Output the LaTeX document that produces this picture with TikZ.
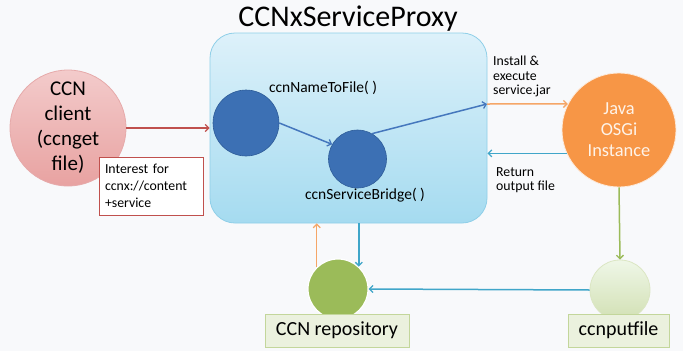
\documentclass[tikz,border=0pt]{standalone}
\usepackage{fontspec}
\setmainfont{Carlito}
\usetikzlibrary{arrows.meta}
\definecolor{bgc}{HTML}{F8F9FB}
\definecolor{dblue}{HTML}{3C70B4}
\definecolor{dblueb}{HTML}{2F5D99}
\definecolor{arrblue}{HTML}{4577BD}
\definecolor{aqua}{HTML}{40A6C9}
\definecolor{orng}{HTML}{F79646}
\definecolor{orngl}{HTML}{F5A667}
\definecolor{grn}{HTML}{9BBB59}
\definecolor{redc}{HTML}{C0504D}
\definecolor{lgrn}{HTML}{EBF1DE}
\definecolor{lgrnb}{HTML}{C3D69B}
\definecolor{pxtop}{HTML}{DDF1FA}
\definecolor{pxbot}{HTML}{A5DBF0}
\definecolor{pxbord}{HTML}{8FCFE8}
\definecolor{cltop}{HTML}{F3CBCB}
\definecolor{clbot}{HTML}{E8A2A1}
\definecolor{clbord}{HTML}{E6AAAA}
\tikzset{
  conn/.style={line width=1.5pt,-{Straight Barb[length=3.5pt,width=7pt,line width=1.3pt]}},
  bluecirc/.style={circle,fill=dblue,draw=dblueb,line width=0.6pt,inner sep=0pt},
  labbox/.style={rectangle,fill=lgrn,draw=lgrnb,line width=0.8pt,minimum width=144pt,minimum height=33pt,inner sep=0pt,font=\fontsize{20}{24}\selectfont},
  smalltxt/.style={font=\fontsize{13.8}{14.6}\selectfont,align=left,inner sep=0pt},
}
\begin{document}
\begin{tikzpicture}[x=1pt,y=-1pt]
\useasboundingbox[fill=bgc] (0,0) rectangle (683,351);
\node (title) at (348,19) {\fontsize{30}{34}\selectfont CCNxServiceProxy};
\node (proxy) [rectangle,rounded corners=25pt,minimum width=277pt,minimum height=190pt,
  top color=pxtop,bottom color=pxbot,draw=pxbord,line width=0.8pt] at (348.5,128) {};
\node (client) [circle,minimum size=116pt,inner sep=0pt,top color=cltop,bottom color=clbot,draw=clbord,line width=0.8pt,align=center,font=\fontsize{21}{25}\selectfont] at (68,128) {CCN\\client\\(ccnget\\file)};
\node (interest) [rectangle,fill=white,draw=redc,line width=1pt,minimum width=104pt,minimum height=58pt,text width=92pt,align=left,inner sep=0pt,font=\fontsize{13.8}{17}\selectfont] at (151,186) {Interest for\\ccnx://content\\+service};
\node (c1) [bluecirc,minimum size=66pt] at (246,123) {};
\node (c2) [bluecirc,minimum size=58pt] at (357.5,159) {};
\node (l1) [font=\fontsize{15.5}{18}\selectfont] at (323,88) {ccnNameToFile( )};
\node (l2) [font=\fontsize{15.5}{18}\selectfont] at (365,195) {ccnServiceBridge( )};
\node (java) [circle,minimum size=114pt,inner sep=0pt,fill=orng,draw=white!80!orng,line width=0.8pt,text=white!88!orng,align=center,font=\fontsize{18.4}{21}\selectfont] at (619,130) {Java\\OSGi\\Instance};
\node (putf) [circle,minimum size=60pt,inner sep=0pt,top color=green!3!lgrn!60!white,bottom color=lgrnb!75!white,draw=lgrnb!60!white,line width=0.8pt] at (620,290) {};
\node (putfbox) [labbox,minimum width=101pt] at (618.5,330.5) {ccnputfile};
\node (repo) [circle,minimum size=60pt,inner sep=0pt,fill=grn,draw=white,line width=1.2pt] at (338,289) {};
\node (repobox) [labbox] at (337,330.5) {CCN repository};
\coordinate (pr1) at (487,104);
\node (inst) [smalltxt,anchor=north west] at (493,56) {Install \&\\execute\\service.jar};
\node (ret) [smalltxt,anchor=north west] at (496,167) {Return\\output file};
% connectors
\draw[conn,draw=redc] (client.east |- 0,128) -- (client.east |- 0,128 -| proxy.west);
\draw[conn,draw=arrblue] (c1.east) -- (c2.150);
\draw[conn,draw=arrblue] (c2.60) -- (pr1);
\draw[conn,draw=orngl] (pr1) -- (java.153);
\draw[conn,draw=aqua] (java.204) -- (java.204 -| proxy.east);
\draw[conn,draw=grn] (java.south) -- (putf.north);
\draw[conn,draw=aqua] (putf.west) -- (repo.east);
\draw[conn,draw=orngl] (repo.134) -- (repo.134 |- proxy.south);
\draw[conn,draw=aqua] (repo.47 |- proxy.south) -- (repo.47);
\end{tikzpicture}
\end{document}
